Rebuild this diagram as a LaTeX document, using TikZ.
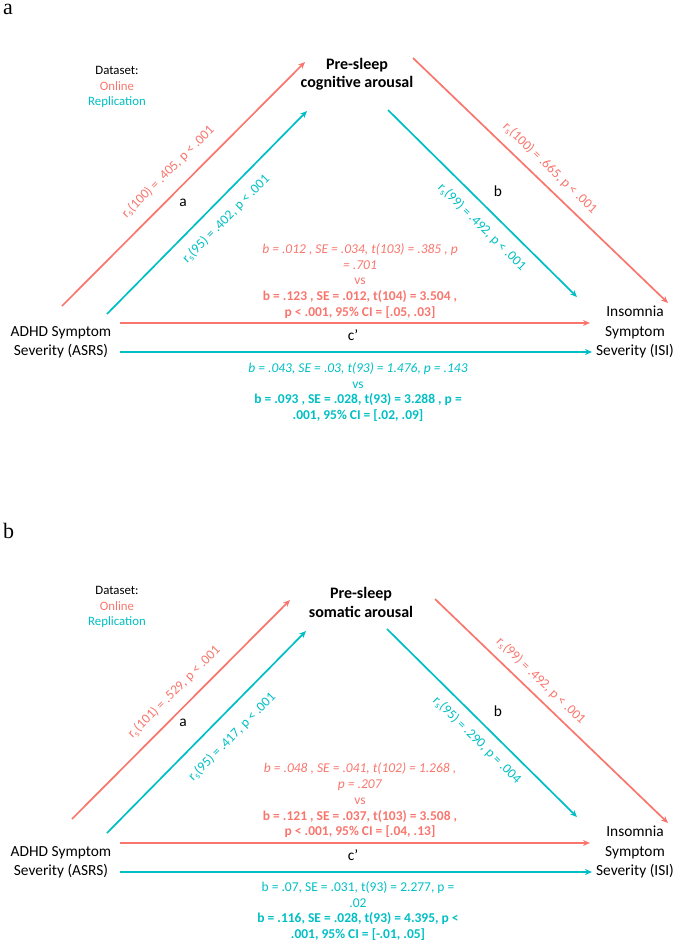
\documentclass[tikz,border=0pt]{standalone}
\usepackage{fontspec}
\setmainfont{Carlito}
\newfontfamily\panelfont{Liberation Serif}
\usetikzlibrary{arrows.meta}
\definecolor{onl}{HTML}{F8766D}
\definecolor{rep}{HTML}{00BFC4}

\begin{document}
\begin{tikzpicture}[x=1pt,y=-1pt,
  link/.style={line width=1.7pt, -{Stealth[length=7pt,width=6pt]}},
  varbox/.style={align=center, inner sep=0pt, font=\fontsize{15.4}{19.3}\selectfont},
  medbox/.style={align=center, inner sep=0pt, font=\fontsize{16}{18.5}\selectfont\bfseries},
  legendbox/.style={align=center, inner sep=0pt, font=\fontsize{12.8}{15.5}\selectfont},
  statbox/.style={align=center, inner sep=0pt, font=\fontsize{13.5}{15.8}\selectfont},
  corr/.style={inner sep=0pt, font=\fontsize{13.5}{16}\selectfont},
  pathname/.style={inner sep=0pt, font=\fontsize{15.4}{18}\selectfont},
  panel/.style={inner sep=0pt, anchor=base west, font=\panelfont\fontsize{22}{24}\selectfont}
]
\useasboundingbox (0,0) rectangle (685,945);

% ---------------- panel a: cognitive arousal ----------------
\node[panel] (pa) at (3,14) {a};
\node[legendbox] (lega) at (117,87) {Dataset:\\\textcolor{onl}{Online}\\\textcolor{rep}{Replication}};
\node[medbox] (meda) at (357,74) {Pre-sleep\\cognitive arousal};
\node[varbox] (xa) at (61,342.5) {ADHD Symptom\\Severity (ASRS)};
\node[varbox] (ya) at (635,332) {Insomnia\\Symptom\\Severity (ISI)};

\coordinate (aOa0) at (62,306);  \coordinate (aOa1) at (305,62);
\coordinate (aRa0) at (107,314); \coordinate (aRa1) at (307,111);
\coordinate (aOb0) at (413,58);  \coordinate (aOb1) at (668,303);
\coordinate (aRb0) at (388,110); \coordinate (aRb1) at (577,297);
\coordinate (aOc0) at (120,323); \coordinate (aOc1) at (590,323);
\coordinate (aRc0) at (120,352); \coordinate (aRc1) at (592,352);

\draw[link, onl] (aOa0) -- (aOa1);
\draw[link, rep] (aRa0) -- (aRa1);
\draw[link, onl] (aOb0) -- (aOb1);
\draw[link, rep] (aRb0) -- (aRb1);
\draw[link, onl] (aOc0) -- (aOc1);
\draw[link, rep] (aRc0) -- (aRc1);

\node[corr, onl, rotate=45.0] (aOaL) at (168,172) {r\textsubscript{s}(100) = .405, p < .001};
\node[corr, rep, rotate=45.4] (aRaL) at (226,219) {r\textsubscript{s}(95) = .402, p < .001};
\node[corr, onl, rotate=-43.9] (aObL) at (550,168) {r\textsubscript{s}(100) = .665, p < .001};
\node[corr, rep, rotate=-44.7] (aRbL) at (482,227) {r\textsubscript{s}(99) = .492, p < .001};

\node[pathname] (aa) at (183,203) {a};
\node[pathname] (ab) at (498,191) {b};
\node[pathname] (ac) at (353,335) {c’};

\node[statbox, onl] (aOs) at (360,281) {\textit{b = .012 , SE = .034, t(103) = .385 , p}\\\textit{= .701}\\vs\\\textbf{b = .123 , SE = .012, t(104) = 3.504 ,}\\\textbf{p < .001, 95\% CI = [.05, .03]}};
\node[statbox, rep] (aRs) at (358,392) {\textit{b = .043, SE = .03, t(93) = 1.476, p = .143}\\vs\\\textbf{b = .093 , SE = .028, t(93) = 3.288 , p =}\\\textbf{.001, 95\% CI = [.02, .09]}};

% ---------------- panel b: somatic arousal ----------------
\node[panel] (pb) at (3,538) {b};
\node[legendbox] (legb) at (117,607) {Dataset:\\\textcolor{onl}{Online}\\\textcolor{rep}{Replication}};
\node[medbox] (medb) at (361,602.5) {Pre-sleep\\somatic arousal};
\node[varbox] (xb) at (61,862.5) {ADHD Symptom\\Severity (ASRS)};
\node[varbox] (yb) at (635,852) {Insomnia\\Symptom\\Severity (ISI)};

\coordinate (bOa0) at (72,819);  \coordinate (bOa1) at (290,600);
\coordinate (bRa0) at (107,833); \coordinate (bRa1) at (306,631);
\coordinate (bOb0) at (435,599); \coordinate (bOb1) at (668,823);
\coordinate (bRb0) at (387,629); \coordinate (bRb1) at (577,817);
\coordinate (bOc0) at (120,843); \coordinate (bOc1) at (590,843);
\coordinate (bRc0) at (120,872); \coordinate (bRc1) at (592,872);

\draw[link, onl] (bOa0) -- (bOa1);
\draw[link, rep] (bRa0) -- (bRa1);
\draw[link, onl] (bOb0) -- (bOb1);
\draw[link, rep] (bRb0) -- (bRb1);
\draw[link, onl] (bOc0) -- (bOc1);
\draw[link, rep] (bRc0) -- (bRc1);

\node[corr, onl, rotate=45.1] (bOaL) at (174,692) {r\textsubscript{s}(101) = .529, p < .001};
\node[corr, rep, rotate=45.4] (bRaL) at (232,737) {r\textsubscript{s}(95) = .417, p < .001};
\node[corr, onl, rotate=-43.9] (bObL) at (541,681) {r\textsubscript{s}(99) = .492, p < .001};
\node[corr, rep, rotate=-44.7] (bRbL) at (477,740) {r\textsubscript{s}(95) = .290, p = .004};

\node[pathname] (ba) at (183,723) {a};
\node[pathname] (bb) at (498,711) {b};
\node[pathname] (bc) at (353,855) {c’};

\node[statbox, onl] (bOs) at (360,800.5) {\textit{b = .048 , SE = .041, t(102) = 1.268 ,}\\\textit{p = .207}\\vs\\\textbf{b = .121 , SE = .037, t(103) = 3.508 ,}\\\textbf{p < .001, 95\% CI = [.04, .13]}};
\node[statbox, rep] (bRs) at (358,911) {b = .07, SE = .031, t(93) = 2.277, p =\\.02\\\textbf{b = .116, SE = .028, t(93) = 4.395, p <}\\\textbf{.001, 95\% CI = [-.01, .05]}};
\end{tikzpicture}
\end{document}
